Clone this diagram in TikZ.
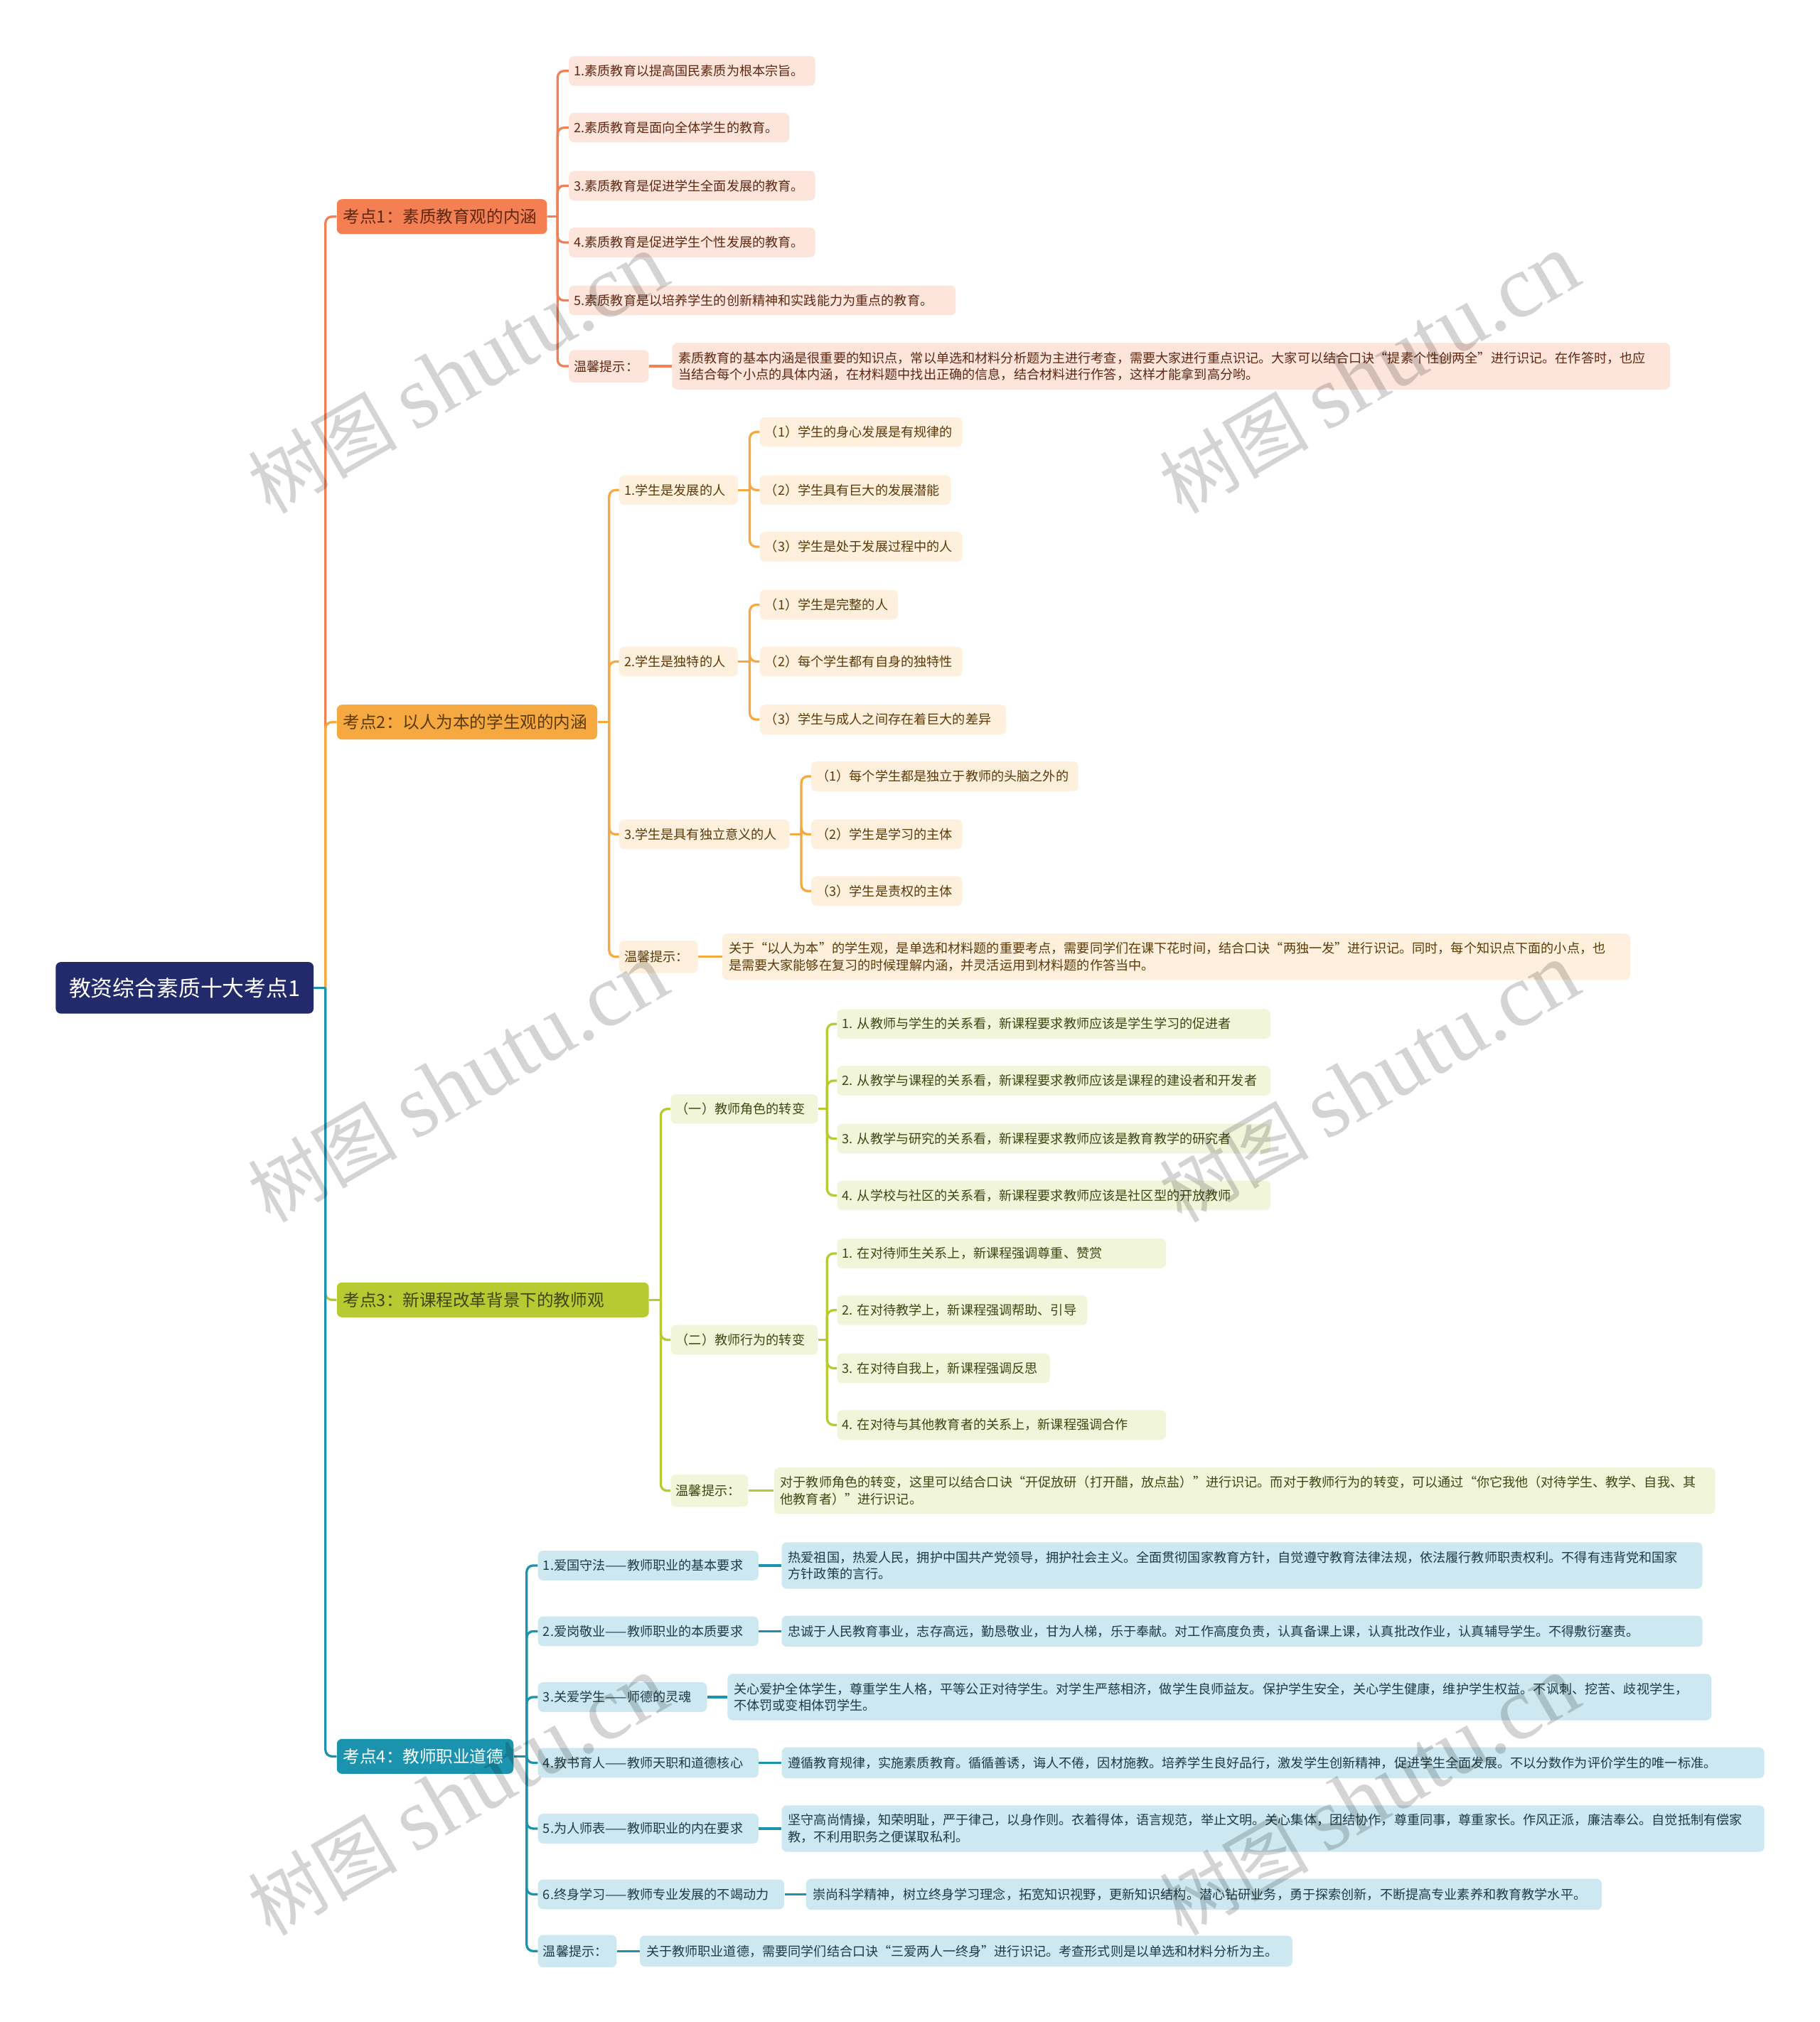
\documentclass[tikz,border=0pt]{standalone}
\usepackage{fontspec}
\setmainfont{Noto Sans CJK SC}
\newfontfamily\wmserif{Liberation Serif}
\usetikzlibrary{calc}
\definecolor{cRoot}{HTML}{232A6B}
\definecolor{cA}{HTML}{F37F53}
\definecolor{cAl}{HTML}{FDE5DC}
\definecolor{cAt}{HTML}{5E2812}
\definecolor{cB}{HTML}{F6A941}
\definecolor{cBl}{HTML}{FEF0DC}
\definecolor{cBt}{HTML}{5C3A0A}
\definecolor{cC}{HTML}{B7CA32}
\definecolor{cCl}{HTML}{F1F5DA}
\definecolor{cCt}{HTML}{3F4612}
\definecolor{cD}{HTML}{1B93AE}
\definecolor{cDl}{HTML}{CDE8F1}
\definecolor{cDt}{HTML}{1E3B46}
\begin{document}
\begin{tikzpicture}[x=1pt,y=-1pt,
  base/.style={rounded corners=4pt, anchor=west, inner ysep=0pt, align=left},
  rootn/.style={base, align=center, fill=cRoot, text=white, minimum height=40pt, inner xsep=6pt, font=\fontsize{17}{20}\selectfont},
  lone/.style={base, minimum height=27pt, inner xsep=5pt, font=\fontsize{13}{16}\selectfont},
  sm/.style={base, minimum height=23pt, inner xsep=4pt, font=\fontsize{10}{13}\selectfont},
  tipn/.style={sm, minimum height=25pt},
  desc/.style={base, inner xsep=5pt, font=\fontsize{10}{13}\selectfont},
  one/.style={desc, minimum height=24pt},
  two/.style={desc, minimum height=36pt},
  fA/.style={fill=cAl, text=cAt},
  fB/.style={fill=cBl, text=cBt},
  fC/.style={fill=cCl, text=cCt},
  fD/.style={fill=cDl, text=cDt},
  ln/.style={line width=1.8pt, rounded corners=5pt},
  wm/.style={text=black, text opacity=0.17, rotate=30, inner sep=0pt}
]
\useasboundingbox[fill=white] (0,0) rectangle (1411,1568);

% root and main topics
\node[rootn, minimum width=200pt] (root) at (43,766) {教资综合素质十大考点1};
\node[lone, fill=cA, text=cAt, text width=153pt] (k1) at (261,168) {考点1：素质教育观的内涵};
\node[lone, fill=cB, text=cBt, text width=192pt] (k2) at (261,560) {考点2：以人为本的学生观的内涵};
\node[lone, fill=cC, text=cCt, text width=232pt] (k3) at (261,1008) {考点3：新课程改革背景下的教师观};
\node[lone, fill=cD, text=white, text width=127pt] (k4) at (261,1362) {考点4：教师职业道德};

% branch 1
\node[sm, fA, text width=183pt] (a1) at (441,55) {1.素质教育以提高国民素质为根本宗旨。};
\node[sm, fA, text width=163pt] (a2) at (441,99) {2.素质教育是面向全体学生的教育。};
\node[sm, fA, text width=183pt] (a3) at (441,144) {3.素质教育是促进学生全面发展的教育。};
\node[sm, fA, text width=183pt] (a4) at (441,188) {4.素质教育是促进学生个性发展的教育。};
\node[sm, fA, text width=292pt] (a5) at (441,233) {5.素质教育是以培养学生的创新精神和实践能力为重点的教育。};
\node[tipn, fA, text width=54pt] (a6) at (441,284) {温馨提示：};
\node[two, fA, text width=764pt] (a6d) at (521,284) {素质教育的基本内涵是很重要的知识点，常以单选和材料分析题为主进行考查，需要大家进行重点识记。大家可以结合口诀“提素个性创两全”进行识记。在作答时，也应\\当结合每个小点的具体内涵，在材料题中找出正确的信息，结合材料进行作答，这样才能拿到高分哟。};

% branch 2
\node[sm, fB, text width=84pt] (b1) at (480,380) {1.学生是发展的人};
\node[sm, fB, text width=149pt] (b11) at (589,335) {（1）学生的身心发展是有规律的};
\node[sm, fB, text width=140pt] (b12) at (589,380) {（2）学生具有巨大的发展潜能};
\node[sm, fB, text width=149pt] (b13) at (589,424) {（3）学生是处于发展过程中的人};
\node[sm, fB, text width=84pt] (b2) at (480,513) {2.学生是独特的人};
\node[sm, fB, text width=99pt] (b21) at (589,469) {（1）学生是完整的人};
\node[sm, fB, text width=149pt] (b22) at (589,513) {（2）每个学生都有自身的独特性};
\node[sm, fB, text width=183pt] (b23) at (589,558) {（3）学生与成人之间存在着巨大的差异};
\node[sm, fB, text width=124pt] (b3) at (480,647) {3.学生是具有独立意义的人};
\node[sm, fB, text width=199pt] (b31) at (629,602) {（1）每个学生都是独立于教师的头脑之外的};
\node[sm, fB, text width=109pt] (b32) at (629,647) {（2）学生是学习的主体};
\node[sm, fB, text width=109pt] (b33) at (629,691) {（3）学生是责权的主体};
\node[tipn, fB, text width=53pt] (b4) at (480,742) {温馨提示：};
\node[two, fB, text width=694pt] (b4d) at (560,742) {关于“以人为本”的学生观，是单选和材料题的重要考点，需要同学们在课下花时间，结合口诀“两独一发”进行识记。同时，每个知识点下面的小点，也\\是需要大家能够在复习的时候理解内涵，并灵活运用到材料题的作答当中。};

% branch 3
\node[sm, fC, text width=106pt] (c1) at (520,860) {（一）教师角色的转变};
\node[sm, fC, text width=328pt] (c11) at (649,794) {1.~从教师与学生的关系看，新课程要求教师应该是学生学习的促进者};
\node[sm, fC, text width=328pt] (c12) at (649,838) {2.~从教学与课程的关系看，新课程要求教师应该是课程的建设者和开发者};
\node[sm, fC, text width=328pt] (c13) at (649,883) {3.~从教学与研究的关系看，新课程要求教师应该是教育教学的研究者};
\node[sm, fC, text width=328pt] (c14) at (649,927) {4.~从学校与社区的关系看，新课程要求教师应该是社区型的开放教师};
\node[sm, fC, text width=106pt] (c2) at (520,1039) {（二）教师行为的转变};
\node[sm, fC, text width=247pt] (c21) at (649,972) {1.~在对待师生关系上，新课程强调尊重、赞赏};
\node[sm, fC, text width=186pt] (c22) at (649,1016) {2.~在对待教学上，新课程强调帮助、引导};
\node[sm, fC, text width=157pt] (c23) at (649,1061) {3.~在对待自我上，新课程强调反思};
\node[sm, fC, text width=247pt] (c24) at (649,1105) {4.~在对待与其他教育者的关系上，新课程强调合作};
\node[tipn, fC, text width=52pt] (c3) at (520,1156) {温馨提示：};
\node[two, fC, text width=720pt] (c3d) at (600,1156) {对于教师角色的转变，这里可以结合口诀“开促放研（打开醋，放点盐）”进行识记。而对于教师行为的转变，可以通过“你它我他（对待学生、教学、自我、其\\他教育者）”进行识记。};

% branch 4
\node[sm, fD, text width=163pt] (d1) at (417,1214) {1.爱国守法——教师职业的基本要求};
\node[two, fD, text width=704pt] (d1d) at (606,1214) {热爱祖国，热爱人民，拥护中国共产党领导，拥护社会主义。全面贯彻国家教育方针，自觉遵守教育法律法规，依法履行教师职责权利。不得有违背党和国家\\方针政策的言行。};
\node[sm, fD, text width=163pt] (d2) at (417,1265) {2.爱岗敬业——教师职业的本质要求};
\node[one, fD, text width=704pt] (d2d) at (606,1265) {忠诚于人民教育事业，志存高远，勤恳敬业，甘为人梯，乐于奉献。对工作高度负责，认真备课上课，认真批改作业，认真辅导学生。不得敷衍塞责。};
\node[sm, fD, text width=123pt] (d3) at (417,1316) {3.关爱学生——师德的灵魂};
\node[two, fD, text width=753pt] (d3d) at (564,1316) {关心爱护全体学生，尊重学生人格，平等公正对待学生。对学生严慈相济，做学生良师益友。保护学生安全，关心学生健康，维护学生权益。不讽刺、挖苦、歧视学生，\\不体罚或变相体罚学生。};
\node[sm, fD, text width=163pt] (d4) at (417,1367) {4.教书育人——教师天职和道德核心};
\node[one, fD, text width=752pt] (d4d) at (606,1367) {遵循教育规律，实施素质教育。循循善诱，诲人不倦，因材施教。培养学生良好品行，激发学生创新精神，促进学生全面发展。不以分数作为评价学生的唯一标准。};
\node[sm, fD, text width=163pt] (d5) at (417,1418) {5.为人师表——教师职业的内在要求};
\node[two, fD, text width=752pt] (d5d) at (606,1418) {坚守高尚情操，知荣明耻，严于律己，以身作则。衣着得体，语言规范，举止文明。关心集体，团结协作，尊重同事，尊重家长。作风正派，廉洁奉公。自觉抵制有偿家\\教，不利用职务之便谋取私利。};
\node[sm, fD, text width=183pt] (d6) at (417,1469) {6.终身学习——教师专业发展的不竭动力};
\node[one, fD, text width=607pt] (d6d) at (625,1469) {崇尚科学精神，树立终身学习理念，拓宽知识视野，更新知识结构。潜心钻研业务，勇于探索创新，不断提高专业素养和教育教学水平。};
\node[tipn, fD, text width=53pt] (d7) at (417,1513) {温馨提示：};
\node[one, fD, text width=496pt] (d7d) at (496,1513) {关于教师职业道德，需要同学们结合口诀“三爱两人一终身”进行识记。考查形式则是以单选和材料分析为主。};

% connectors from root
\coordinate (rj) at ($(root.east)+(9,0)$);
\draw[ln, cA] (rj) |- (k1.west);
\draw[ln, cB] (rj) |- (k2.west);
\draw[ln, cC] (rj) |- (k3.west);
\draw[ln, cD] (rj) |- (k4.west);
\draw[line width=1.8pt, cD] (root.east) -- (rj);

% branch 1 connectors
\draw[line width=1.8pt, cA] (k1.east) -- ++(8,0) coordinate (k1j);
\foreach \n in {a1,a2,a3,a4,a5,a6} \draw[ln, cA] (k1j) |- (\n.west);
\draw[line width=1.8pt, cA] (a6.east) -- (a6d.west);

% branch 2 connectors
\draw[line width=1.8pt, cB] (k2.east) -- ++(9,0) coordinate (k2j);
\foreach \n in {b1,b2,b3,b4} \draw[ln, cB] (k2j) |- (\n.west);
\draw[line width=1.8pt, cB] (b1.east) -- ++(9,0) coordinate (b1j);
\foreach \n in {b11,b12,b13} \draw[ln, cB] (b1j) |- (\n.west);
\draw[line width=1.8pt, cB] (b2.east) -- ++(9,0) coordinate (b2j);
\foreach \n in {b21,b22,b23} \draw[ln, cB] (b2j) |- (\n.west);
\draw[line width=1.8pt, cB] (b3.east) -- ++(9,0) coordinate (b3j);
\foreach \n in {b31,b32,b33} \draw[ln, cB] (b3j) |- (\n.west);
\draw[line width=1.8pt, cB] (b4.east) -- (b4d.west);

% branch 3 connectors
\draw[line width=1.8pt, cC] (k3.east) -- ++(9,0) coordinate (k3j);
\foreach \n in {c1,c2,c3} \draw[ln, cC] (k3j) |- (\n.west);
\draw[line width=1.8pt, cC] (c1.east) -- ++(7,0) coordinate (c1j);
\foreach \n in {c11,c12,c13,c14} \draw[ln, cC] (c1j) |- (\n.west);
\draw[line width=1.8pt, cC] (c2.east) -- ++(7,0) coordinate (c2j);
\foreach \n in {c21,c22,c23,c24} \draw[ln, cC] (c2j) |- (\n.west);
\draw[line width=1.8pt, cC] (c3.east) -- (c3d.west);

% branch 4 connectors
\draw[line width=1.8pt, cD] (k4.east) -- ++(10,0) coordinate (k4j);
\foreach \n in {d1,d2,d3,d4,d5,d6,d7} \draw[ln, cD] (k4j) |- (\n.west);
\foreach \n in {d1,d2,d3,d4,d5,d6,d7} \draw[line width=1.8pt, cD] (\n.east) -- (\n d.west);

% watermarks
\foreach \wx/\wy/\i in {355/290/1, 1062/290/2, 355/840/3, 1062/840/4, 355/1393/5, 1062/1393/6}
  \node[wm] (wm\i) at (\wx,\wy) {\fontsize{58}{58}\selectfont 树图\hspace{13pt}\wmserif\fontsize{69}{69}\selectfont shutu.cn};
\end{tikzpicture}
\end{document}
